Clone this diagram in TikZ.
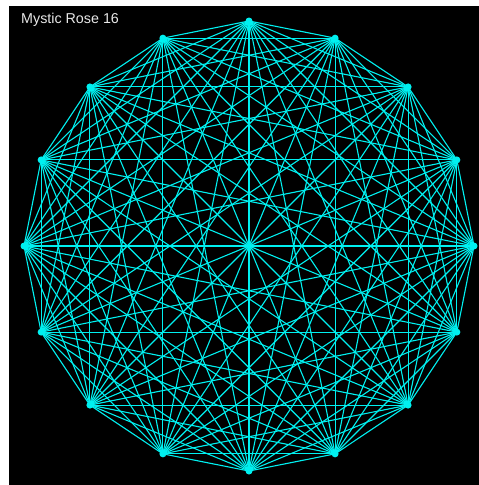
\documentclass[tikz,border=0pt]{standalone}
\usepackage{fontspec}
\setmainfont{Liberation Sans}
\usetikzlibrary{calc}
\definecolor{rosecyan}{HTML}{00F0F0}
\definecolor{titlegray}{HTML}{E8E8E8}
\begin{document}
\begin{tikzpicture}[x=1pt,y=-1pt,
  chord/.style={draw=rosecyan,line width=1.1pt},
  vdot/.style={circle,fill=rosecyan,inner sep=0pt,minimum size=7pt},
  title/.style={text=titlegray,font=\fontsize{14.3}{17}\selectfont,anchor=west,inner sep=0pt}]
\useasboundingbox (0,0) rectangle (479,485);
\fill[white] (0,0) rectangle (479,485);
\fill[black] (9,6) rectangle (479,485);
\coordinate (c) at (249,246);
\foreach \i in {0,...,15}{
  \coordinate (v\i) at ($(c)+({225*sin(\i*22.5)},{-225*cos(\i*22.5)})$);
}
\foreach \i in {0,...,14}{
  \pgfmathtruncatemacro{\s}{\i+1}
  \foreach \j in {\s,...,15}{
    \draw[chord] (v\i) -- (v\j);
  }
}
\foreach \i in {0,...,15}{
  \node[vdot] at (v\i) {};
}
\node[vdot,minimum size=6pt] at (c) {};
\node[title] (t) at (21,20) {Mystic Rose 16};
\end{tikzpicture}
\end{document}
